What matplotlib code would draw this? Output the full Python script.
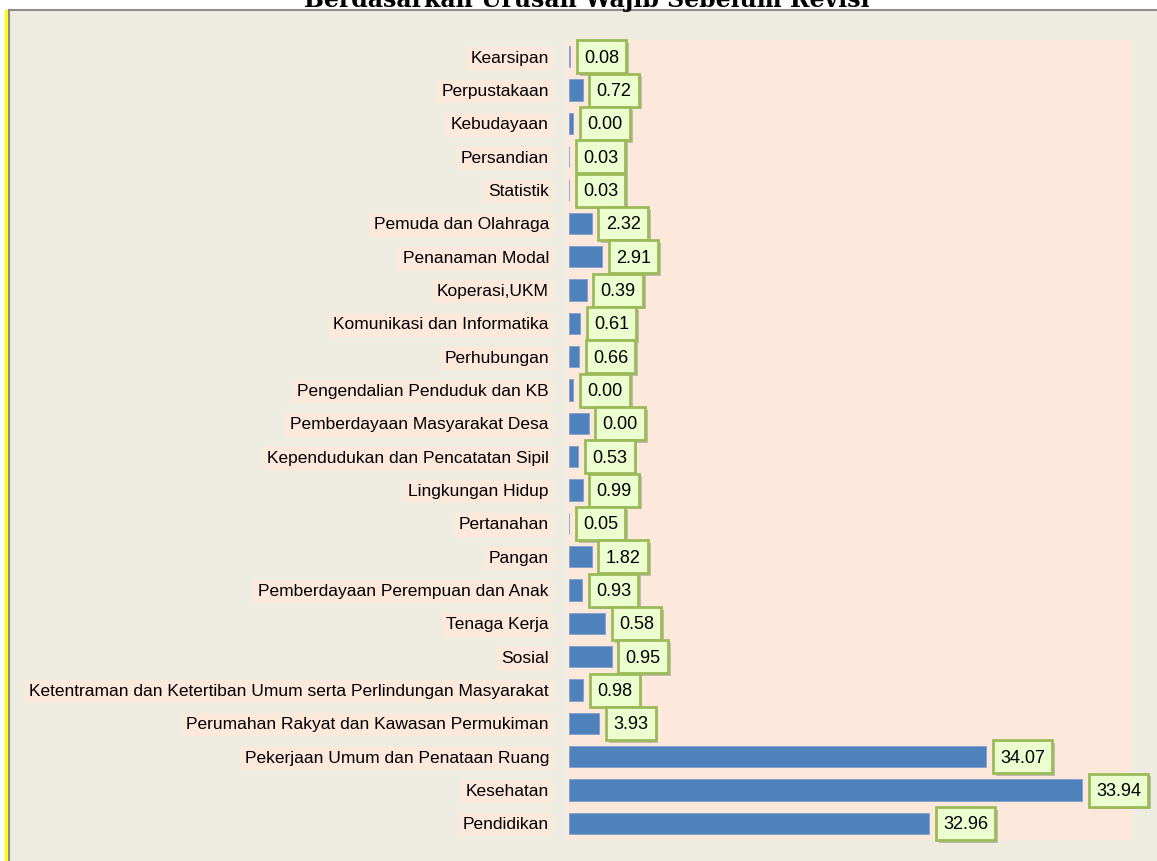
import matplotlib
matplotlib.use("Agg")
import matplotlib.pyplot as plt
import matplotlib.patheffects as pe
from matplotlib.patches import Rectangle
from matplotlib.path import Path

categories = [
    "Kearsipan", "Perpustakaan", "Kebudayaan", "Persandian", "Statistik",
    "Pemuda dan Olahraga", "Penanaman Modal", "Koperasi,UKM",
    "Komunikasi dan Informatika", "Perhubungan",
    "Pengendalian Penduduk dan KB", "Pemberdayaan Masyarakat Desa",
    "Kependudukan dan Pencatatan Sipil", "Lingkungan Hidup", "Pertanahan",
    "Pangan", "Pemberdayaan Perempuan dan Anak", "Tenaga Kerja", "Sosial",
    "Ketentraman dan Ketertiban Umum serta Perlindungan Masyarakat",
    "Perumahan Rakyat dan Kawasan Permukiman",
    "Pekerjaan Umum dan Penataan Ruang", "Kesehatan", "Pendidikan",
]
# bar lengths as drawn in the reference
bar_values = [
    0.10, 1.37, 0.43, 0.0, 0.0,
    2.27, 3.30, 1.77,
    1.10, 1.00,
    0.43, 1.97,
    0.93, 1.37, 0.0,
    2.27, 1.30, 3.60, 4.27,
    1.43,
    3.03,
    41.7, 51.3, 36.0,
]
# data labels as printed in the reference
label_texts = [
    "0.08", "0.72", "0.00", "0.03", "0.03",
    "2.32", "2.91", "0.39",
    "0.61", "0.66",
    "0.00", "0.00",
    "0.53", "0.99", "0.05",
    "1.82", "0.93", "0.58", "0.95",
    "0.98",
    "3.93",
    "34.07", "33.94", "32.96",
]
title = "Berdasarkan Urusan Wajib Sebelum Revisi"

W, H, DPI = 1157, 861, 100
fig = plt.figure(figsize=(W / DPI, H / DPI), dpi=DPI, facecolor="white")

# outer panel
panel_bg = "#EEEBE1"
fig.patches.append(Rectangle((8.5 / W, -0.05), 1.2, 1 - 10.5 / H + 0.05,
                             transform=fig.transFigure, facecolor=panel_bg,
                             edgecolor="#8C8C8C", linewidth=1.5, zorder=-10))
fig.patches.append(Rectangle((5.5 / W, -0.05), 2.5 / W, 1 - 10.5 / H + 0.05,
                             transform=fig.transFigure, facecolor="#FFFF00",
                             edgecolor="none", zorder=-9))

peach = "#FDE9DC"
ax = fig.add_axes([567 / W, 1 - 840 / H, (1132 - 567) / W, (840 - 40) / H])
ax.set_zorder(1)
ax.set_facecolor(peach)
for s in ax.spines.values():
    s.set_visible(False)

y = list(range(len(categories)))
ax.barh(y, bar_values, height=0.64, color="#4F81BD", edgecolor="#7EA2CF",
        linewidth=0.6, zorder=2)
ax.set_xlim(-0.2, 56.3)
ax.set_ylim(len(categories) - 0.5, -0.5)
ax.set_xticks([])
ax.set_yticks(y)
ax.set_yticklabels(categories, fontsize=12.5, family="Liberation Sans")
ax.tick_params(axis="y", length=0, pad=13)
for lab in ax.get_yticklabels():
    lab.set_bbox(dict(facecolor=peach, edgecolor="none", pad=3))


def label_box(x0, y0, width, height, mutation_size):
    px = 0.40 * mutation_size
    pb = 0.36 * mutation_size
    pt = 0.52 * mutation_size
    return Path([(x0 - px, y0 - pb), (x0 + width + px, y0 - pb),
                 (x0 + width + px, y0 + height + pt), (x0 - px, y0 + height + pt),
                 (x0 - px, y0 - pb)], closed=True)


for yi, v, t in zip(y, bar_values, label_texts):
    a = ax.annotate(t, xy=(v, yi), xytext=(14, -1.5), textcoords="offset pixels",
                    ha="left", va="center", fontsize=13,
                    family="Liberation Sans", color="black", zorder=5,
                    annotation_clip=False,
                    bbox=dict(boxstyle=label_box, facecolor="#ECFDD0",
                              edgecolor="#9BBB59", linewidth=2))
    a.get_bbox_patch().set_path_effects(
        [pe.SimplePatchShadow(offset=(2, -2), shadow_rgbFace="#808080", alpha=0.45),
         pe.Normal()])

fig.text(587 / W, 1 - 7 / H, title, ha="center", va="baseline",
         fontsize=17, fontweight="bold", family="DejaVu Serif", color="black")

fig.savefig("out.png", dpi=DPI, facecolor="white")
